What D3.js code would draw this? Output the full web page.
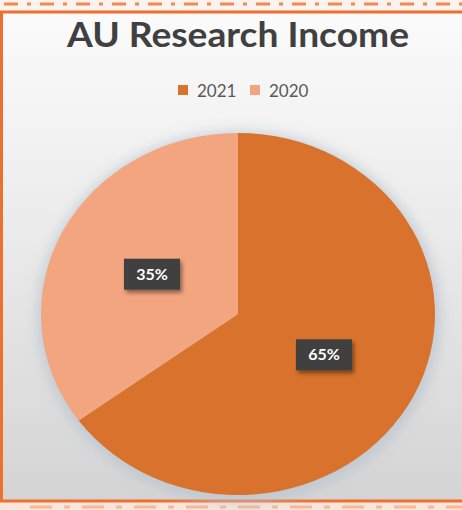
<!DOCTYPE html>
<html>
<head>
<meta charset="utf-8">
<script src="https://cdn.jsdelivr.net/npm/d3@7"></script>
<style>
  html, body { margin: 0; padding: 0; background: #fff; }
  svg { display: block; }
</style>
</head>
<body>
<div id="container"></div>
<script>
// chart data
var years = ["2021", "2020"];
var shares = [65, 35];
var colors = ["#d8722c", "#f2a57f"];
var title = "AU Research Income";

var w = 462,
    h = 510;

var svg = d3.select("div#container")
  .append("svg")
  .attr("width", w)
  .attr("height", h);

var defs = svg.append("defs");

// background gradient of the chart area
var bg = defs.append("linearGradient")
  .attr("id", "bg")
  .attr("x1", 0).attr("y1", 0).attr("x2", 0).attr("y2", 1);
bg.append("stop").attr("offset", "0%").attr("stop-color", "#fbfbfb");
bg.append("stop").attr("offset", "45%").attr("stop-color", "#ebebeb");
bg.append("stop").attr("offset", "100%").attr("stop-color", "#d4d4d4");

var blur = defs.append("filter")
  .attr("id", "glow")
  .attr("x", "-20%").attr("y", "-20%").attr("width", "140%").attr("height", "140%");
blur.append("feGaussianBlur").attr("stdDeviation", 7);

var boxShadow = defs.append("filter")
  .attr("id", "boxshadow")
  .attr("x", "-30%").attr("y", "-30%").attr("width", "160%").attr("height", "180%");
boxShadow.append("feGaussianBlur").attr("in", "SourceAlpha").attr("stdDeviation", 2);
boxShadow.append("feOffset").attr("dx", 2).attr("dy", 3).attr("result", "off");
boxShadow.append("feComponentTransfer").append("feFuncA").attr("type", "linear").attr("slope", 0.45);
var merge = boxShadow.append("feMerge");
merge.append("feMergeNode");
merge.append("feMergeNode").attr("in", "SourceGraphic");

// decorative strips top and bottom
svg.append("rect").attr("x", 0).attr("y", 0).attr("width", w).attr("height", 11).attr("fill", "#fdf3ee");
svg.append("rect").attr("x", 0).attr("y", 502).attr("width", w).attr("height", 8).attr("fill", "#fbe6db");
svg.append("line")
  .attr("x1", 4).attr("x2", w).attr("y1", 4).attr("y2", 4)
  .attr("stroke", "#f08a52").attr("stroke-width", 3)
  .attr("stroke-dasharray", "14,9,4,9");
svg.append("line")
  .attr("x1", 30).attr("x2", w).attr("y1", 507).attr("y2", 507)
  .attr("stroke", "#f6b898").attr("stroke-width", 3)
  .attr("stroke-dasharray", "22,12,6,12");

// chart area with orange border
svg.append("rect")
  .attr("x", 1.5).attr("y", 12)
  .attr("width", w + 4).attr("height", 489)
  .attr("fill", "url(#bg)")
  .attr("stroke", "#ef6f2e").attr("stroke-width", 3);

// title
svg.append("text")
  .attr("x", 238).attr("y", 47)
  .attr("text-anchor", "middle")
  .attr("font-family", "Lato, 'Open Sans', sans-serif")
  .attr("font-weight", "bold")
  .attr("font-size", 34)
  .attr("textLength", 342)
  .attr("lengthAdjust", "spacingAndGlyphs")
  .attr("fill", "#404040")
  .text(title);

// legend
var legend = svg.append("g")
  .attr("transform", "translate(178,85)")
  .selectAll("g")
  .data(years)
  .enter().append("g")
  .attr("transform", function(d, i) { return "translate(" + (i * 72) + ",0)"; });

legend.append("rect")
  .attr("width", 10).attr("height", 10)
  .attr("fill", function(d, i) { return colors[i]; });

legend.append("text")
  .attr("x", 19).attr("y", 12)
  .attr("font-family", "Lato, 'Open Sans', sans-serif")
  .attr("font-size", 17)
  .attr("fill", "#595959")
  .text(function(d) { return d; });

// pie (slightly wider than tall, as in the picture)
var cx = 238, cy = 314, rx = 197, ry = 181;

svg.append("ellipse")
  .attr("cx", cx + 1).attr("cy", cy + 3)
  .attr("rx", rx + 4).attr("ry", ry + 4)
  .attr("fill", "#b9c4cf")
  .attr("opacity", 0.8)
  .attr("filter", "url(#glow)");

var pie = d3.pie().sort(null).value(function(d) { return d; });
var arcs = pie(shares);
var arc = d3.arc().innerRadius(0).outerRadius(1);

var pieG = svg.append("g")
  .attr("transform", "translate(" + cx + "," + cy + ")");

pieG.append("g")
  .attr("transform", "scale(" + rx + "," + ry + ")")
  .selectAll("path")
  .data(arcs)
  .enter().append("path")
  .attr("d", arc)
  .attr("fill", function(d, i) { return colors[i]; });

// data labels
var label = pieG.selectAll("g.label")
  .data(arcs)
  .enter().append("g")
  .attr("class", "label")
  .attr("transform", function(d) {
    var c = arc.centroid(d);
    return "translate(" + (c[0] * rx * 0.98) + "," + (c[1] * ry * 0.98) + ")";
  });

label.append("rect")
  .attr("x", -28).attr("y", -15)
  .attr("width", 56).attr("height", 31)
  .attr("fill", "#404040")
  .attr("filter", "url(#boxshadow)");

label.append("text")
  .attr("text-anchor", "middle")
  .attr("y", 6)
  .attr("font-family", "Lato, 'Open Sans', sans-serif")
  .attr("font-weight", "bold")
  .attr("font-size", 16)
  .attr("fill", "#ffffff")
  .text(function(d) { return d.data + "%"; });
</script>
</body>
</html>
